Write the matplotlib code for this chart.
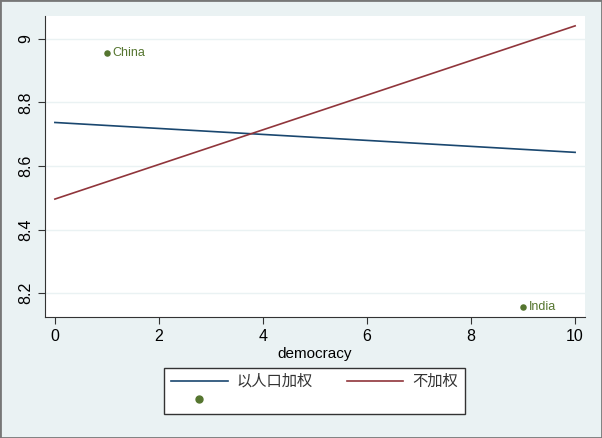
import matplotlib
matplotlib.use("Agg")
import matplotlib.pyplot as plt
from matplotlib.lines import Line2D
from matplotlib.patches import Rectangle

plt.rcParams["font.family"] = ["Liberation Sans", "Noto Sans CJK SC", "DejaVu Sans"]

# fitted lines (endpoints of the linear fits)
fit_x = [0, 10]
weighted_y = [8.737, 8.643]      # 以人口加权
unweighted_y = [8.496, 9.041]    # 不加权

# labelled points
point_names = ["China", "India"]
point_x = [1, 9]
point_y = [8.956, 8.158]

x_ticks = [0, 2, 4, 6, 8, 10]
y_ticks = [8.2, 8.4, 8.6, 8.8, 9.0]
y_tick_labels = ["8.2", "8.4", "8.6", "8.8", "9"]

BG = "#eaf2f3"
NAVY = "#1a476f"
MAROON = "#90353b"
GREEN = "#55752f"

fig = plt.figure(figsize=(6.02, 4.38), dpi=100, facecolor=BG)
ax = fig.add_axes([45 / 602, 1 - 317 / 438, 540 / 602, 301 / 438])
ax.set_facecolor("white")

ax.plot(fit_x, weighted_y, color=NAVY, lw=1.2)
ax.plot(fit_x, unweighted_y, color=MAROON, lw=1.2)
ax.scatter(point_x, point_y, s=22, color=GREEN, zorder=3, linewidths=0)
for name, px, py in zip(point_names, point_x, point_y):
    ax.annotate(name, (px, py), xytext=(4, 0), textcoords="offset points",
                va="center", ha="left", fontsize=9, color=GREEN)

ax.set_xlim(-0.19, 10.19)
ax.set_ylim(8.125, 9.072)
ax.set_xticks(x_ticks)
ax.set_yticks(y_ticks)
ax.set_yticklabels(y_tick_labels, rotation=90, va="center")
ax.tick_params(axis="both", labelsize=11.5, length=5, width=0.8, color="#333333")
ax.grid(axis="y", color=BG, lw=1)
ax.set_axisbelow(True)
for side in ("top", "right"):
    ax.spines[side].set_visible(False)
for side in ("left", "bottom"):
    ax.spines[side].set_color("#333333")
    ax.spines[side].set_linewidth(0.8)
ax.set_xlabel("democracy", fontsize=11, labelpad=2)

handles = [
    Line2D([], [], color=NAVY, lw=1.2),
    Line2D([], [], marker="o", ls="none", color=GREEN, markersize=5),
    Line2D([], [], color=MAROON, lw=1.2),
]
labels = ["以人口加权", "", "不加权"]
leg = fig.legend(handles, labels, ncol=2, loc="center",
                 bbox_to_anchor=(314.5 / 602, 1 - 391 / 438),
                 fontsize=11, frameon=True, fancybox=False,
                 handlelength=3.7, columnspacing=2.2, handletextpad=0.6,
                 borderpad=0.45, labelspacing=0.3, labelcolor="#333333")
leg.get_frame().set_edgecolor("#333333")
leg.get_frame().set_linewidth(1.0)
leg.get_frame().set_facecolor("white")
leg.get_frame().set_alpha(1)

fig.patches.append(Rectangle((0, 0), 1, 1, transform=fig.transFigure,
                             fill=False, edgecolor="#777777", lw=2))

fig.savefig("out.png", dpi=100, facecolor=BG)
